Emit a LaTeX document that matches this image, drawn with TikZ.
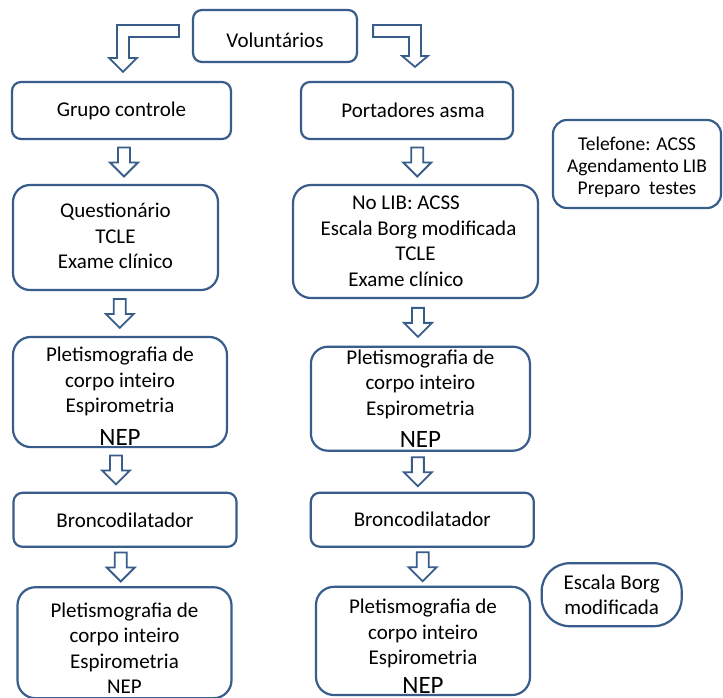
\documentclass[tikz,border=0pt]{standalone}
\usepackage{fontspec}
\setmainfont{Carlito}
\usetikzlibrary{calc}
\definecolor{boxblue}{RGB}{56,93,138}
\newcommand{\topstrut}[1]{\rule{0pt}{#1pt}}
\newcommand{\bignep}{{\fontsize{25}{30}\selectfont NEP}}

\tikzset{
  box/.style={draw=boxblue,line width=2.2pt,rounded corners=#1,align=center,inner sep=2pt,
    font=\fontsize{21}{25.5}\selectfont},
  box/.default=9pt,
  blockarrow/.style={draw=boxblue,line width=1.8pt,fill=white,line join=miter}
}

\begin{document}
\begin{tikzpicture}[x=1pt,y=-1pt]
\useasboundingbox (0,0) rectangle (723,697);
\clip (0,0) rectangle (723,697);
\fill[white] (0,0) rectangle (723,697);

\node[box,minimum width=164,minimum height=52](vol) at (275,36) {\topstrut{22.7}Voluntários};
\node[box,minimum width=219,minimum height=57](gc) at (121.5,110.5) {Grupo controle};
\node[box,minimum width=212,minimum height=57](pa) at (407,110.5) {\hspace*{12pt}Portadores asma};
\node[box=14pt,minimum width=168,minimum height=88,font=\fontsize{19.5}{22}\selectfont](tel) at (637,164)
  {\topstrut{21}Telefone: ACSS\\Agendamento LIB\\Preparo~ testes};

\node[box=17pt,minimum width=205,minimum height=105](quest) at (115.5,237.5)
  {Questionário\\TCLE\\Exame clínico\rule[-3pt]{0pt}{0pt}};
\node[box=18pt,minimum width=245,minimum height=113](nolib) at (415.5,241.5)
  {No LIB: ACSS\hspace*{19pt}\\\hspace*{6pt}Escala Borg modificada\\TCLE\hspace*{19pt}\\Exame clínico\hspace*{19pt}};

\node[box=18pt,minimum width=214,minimum height=110](plet1) at (120,392)
  {\topstrut{22.7}Pletismografia de\\corpo inteiro\\Espirometria\\[7pt]\bignep};
\node[box=17pt,minimum width=219,minimum height=104](plet1r) at (420.4,398.7)
  {\topstrut{15}Pletismografia de\\corpo inteiro\\Espirometria\\[7pt]\bignep};

\node[box,minimum width=223,minimum height=54](bronco) at (125,519.8) {Broncodilatador};
\node[box,minimum width=223,minimum height=54](broncor) at (422.3,519.7) {Broncodilatador};

\node[box=18pt,minimum width=214,minimum height=111](plet2) at (124.5,642.7)
  {\topstrut{25.7}Pletismografia de\\corpo inteiro\\Espirometria\\NEP};
\node[box=18pt,minimum width=214,minimum height=108](plet2r) at (423,640.9)
  {\topstrut{24.7}Pletismografia de\\corpo inteiro\\Espirometria\\[3pt]\bignep};
\node[box=28pt,minimum width=140,minimum height=63](borg) at (611.7,594.7) {Escala Borg\\modificada};

% hollow arrows down the two columns
\foreach \a/\b/\dx in {gc/quest/5.5,quest/plet1/2,plet1/bronco/-6.5,bronco/plet2/-4,
    pa/nolib/6,nolib/plet1r/0,plet1r/broncor/-3.5,broncor/plet2r/0}
  \draw[blockarrow] let \p1=($(\a.south)!.5!(\b.north)+(\dx,0)$) in
    ({\x1-6pt},{\y1+14.5pt}) -- ({\x1+6pt},{\y1+14.5pt}) -- ({\x1+6pt},{\y1-0.5pt})
    -- ({\x1+14pt},{\y1-0.5pt}) -- (\x1,{\y1-14.5pt}) -- ({\x1-14pt},{\y1-0.5pt})
    -- ({\x1-6pt},{\y1-0.5pt}) -- cycle;

\draw[blockarrow] let \p1=(vol.west),\p2=($(gc.north)+(1.5,0)$) in
  ({\x1-13pt},{\y1+11pt}) -- ({\x2-6pt},{\y1+11pt}) -- ({\x2-6pt},{\y2+23pt})
  -- ({\x2-14pt},{\y2+23pt}) -- (\x2,{\y2+9pt}) -- ({\x2+14pt},{\y2+23pt})
  -- ({\x2+6pt},{\y2+23pt}) -- ({\x2+6pt},{\y1-1pt}) -- ({\x1-13pt},{\y1-1pt}) -- cycle;
\draw[blockarrow] let \p1=(vol.east),\p2=($(pa.north)+(8,0)$) in
  ({\x1+15pt},{\y1+11pt}) -- ({\x2+6pt},{\y1+11pt}) -- ({\x2+6pt},{\y2+25pt})
  -- ({\x2+13pt},{\y2+25pt}) -- (\x2,{\y2+14pt}) -- ({\x2-13pt},{\y2+25pt})
  -- ({\x2-6pt},{\y2+25pt}) -- ({\x2-6pt},{\y1-1pt}) -- ({\x1+15pt},{\y1-1pt}) -- cycle;

\end{tikzpicture}
\end{document}
